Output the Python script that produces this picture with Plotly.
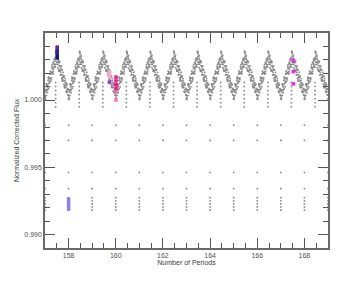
import plotly.graph_objects as go

# ---- data ----
periods = [157, 158, 159, 160, 161, 162, 163, 164, 165, 166, 167, 168]

# template of one cycle of the gray light-curve band (phase within the period, flux)
cycle_phase = [0.00, 0.02, 0.04, 0.06, 0.08, 0.10, 0.12, 0.14, 0.16, 0.18, 0.20, 0.22, 0.24, 0.26,
               0.28, 0.30, 0.32, 0.34, 0.36, 0.38, 0.40, 0.42, 0.44, 0.46, 0.48, 0.50, 0.52, 0.54,
               0.56, 0.58, 0.60, 0.62, 0.64, 0.66, 0.68, 0.70, 0.72, 0.74, 0.76, 0.78, 0.80, 0.82,
               0.84, 0.86, 0.88, 0.90, 0.92, 0.94, 0.96, 0.98,
               0.01, 0.03, 0.05, 0.07, 0.09, 0.11, 0.13, 0.15, 0.17, 0.19, 0.21, 0.23, 0.25, 0.27,
               0.29, 0.31, 0.33, 0.35, 0.37, 0.39, 0.41, 0.43, 0.45, 0.47, 0.49, 0.51, 0.53, 0.55,
               0.57, 0.59, 0.61, 0.63, 0.65, 0.67, 0.69, 0.71, 0.73, 0.75, 0.77, 0.79, 0.81, 0.83,
               0.85, 0.87, 0.89, 0.91, 0.93, 0.95, 0.97, 0.99,
               0.46, 0.48, 0.47,
               0.025, 0.065, 0.105, 0.145, 0.185, 0.225, 0.265, 0.305, 0.345, 0.385, 0.425,
               0.535, 0.575, 0.615, 0.655, 0.695, 0.735, 0.775, 0.815, 0.855, 0.895, 0.935, 0.975]
cycle_flux = [1.00070, 1.00031, 1.00073, 1.00034, 1.00106, 1.00097, 1.00079, 1.00160, 1.00122, 1.00163,
              1.00135, 1.00196, 1.00138, 1.00199, 1.00201, 1.00232, 1.00194, 1.00275, 1.00227, 1.00268,
              1.00260, 1.00311, 1.00263, 1.00304, 1.00325, 1.00280, 1.00320, 1.00240, 1.00280, 1.00279,
              1.00219, 1.00279, 1.00219, 1.00239, 1.00188, 1.00228, 1.00148, 1.00188, 1.00168, 1.00177,
              1.00117, 1.00177, 1.00107, 1.00127, 1.00096, 1.00126, 1.00056, 1.00076, 1.00086, 1.00035,
              1.00016, 1.00077, 1.00059, 1.00120, 1.00072, 1.00113, 1.00145, 1.00086, 1.00148, 1.00129,
              1.00191, 1.00162, 1.00204, 1.00165, 1.00247, 1.00208, 1.00240, 1.00211, 1.00283, 1.00244,
              1.00296, 1.00247, 1.00309, 1.00286, 1.00343, 1.00265, 1.00305, 1.00265, 1.00294, 1.00214,
              1.00254, 1.00214, 1.00254, 1.00204, 1.00223, 1.00163, 1.00223, 1.00153, 1.00173, 1.00142,
              1.00172, 1.00092, 1.00142, 1.00092, 1.00111, 1.00061, 1.00111, 1.00061, 1.00081, 1.00010,
              1.00362, 1.00355, 1.00350,
              1.00005, 1.00117, 1.00055, 1.00171, 1.00098, 1.00214, 1.00150, 1.00262, 1.00196, 1.00300, 1.00243,
              1.00330, 1.00228, 1.00288, 1.00185, 1.00252, 1.00139, 1.00205, 1.00101, 1.00158, 1.00065, 1.00117, 1.00040]

# dotted column below each peak
column_phase = 0.45
column_flux = [1.0013, 1.0010, 1.0007, 1.0004, 1.0001, 0.9998, 0.9995]

# low points at integer periods
low_periods = [157, 158, 159, 160, 161, 162, 163, 164, 165, 166, 167, 168, 169]
low_flux = [0.99813, 0.99701, 0.99463, 0.99343, 0.99276, 0.99253, 0.99230, 0.99207, 0.99184]

# highlighted points (x, flux, colour)
hl_x = [157.52, 157.52, 157.52, 157.52, 157.52, 157.52, 157.52,
        158.0, 158.0, 158.0, 158.0,
        159.73, 159.73, 159.73, 159.73,
        160.01, 160.01, 160.01, 160.01, 160.01, 160.01,
        167.53, 167.53, 167.53]
hl_y = [1.00393, 1.00382, 1.00366, 1.00355, 1.00345, 1.00330, 1.00312,
        0.99265, 0.99240, 0.99215, 0.99192,
        1.00210, 1.00190, 1.00172, 1.00132,
        1.00170, 1.00142, 1.00114, 1.00088, 1.00057, 1.00000,
        1.00294, 1.00211, 1.00120]
hl_c = ["#6a22a8", "#6a22a8", "#2a2aa6", "#2a2aa6", "#2a2aa6", "#1c1c78", "#1c1c78",
        "#8a7cf4", "#8a7cf4", "#8a7cf4", "#8a7cf4",
        "#f6a9c9", "#f6a9c9", "#f6a9c9", "#9a3ad2",
        "#f0128c", "#f0128c", "#f0128c", "#f0128c", "#f07aa8", "#f07aa8",
        "#ff1aff", "#ff1aff", "#ff1aff"]

# ---- build traces ----
gx, gy = [], []
for n in periods:
    for p, f in zip(cycle_phase, cycle_flux):
        gx.append(n + p)
        gy.append(f)
    for f in column_flux:
        gx.append(n + column_phase)
        gy.append(f)
for n in low_periods:
    for f in low_flux:
        gx.append(n)
        gy.append(f)

fig = go.Figure()
fig.add_trace(go.Scatter(x=gx, y=gy, mode="markers",
                         marker=dict(symbol="square", size=1.6, color="#888888", line=dict(width=0)),
                         hoverinfo="skip"))
fig.add_trace(go.Scatter(x=hl_x, y=hl_y, mode="markers",
                         marker=dict(symbol="square", size=3.5, color=hl_c, line=dict(width=0))))

FONT = "Liberation Sans, Arial, sans-serif"
axis_common = dict(showgrid=False, zeroline=False, showline=True, linecolor="#6a6a6a", linewidth=1.5,
                   mirror="ticks", ticks="inside", tickcolor="#555555", tickwidth=1, ticklen=10,
                   automargin=False,
                   tickfont=dict(size=7, color="#505050", family=FONT))

fig.update_xaxes(range=[157, 169], dtick=2, tick0=158,
                 minor=dict(ticks="inside", dtick=0.5, ticklen=5, tickcolor="#555555", tickwidth=1),
                 title=dict(text="Number of Periods", font=dict(size=7, color="#404040", family=FONT), standoff=2),
                 **axis_common)
fig.update_yaxes(range=[0.98903, 1.00497], dtick=0.005, tick0=0.99, tickformat=".3f",
                 minor=dict(ticks="inside", dtick=0.001, ticklen=5, tickcolor="#555555", tickwidth=1),
                 title=dict(text="Normalized Corrected Flux", font=dict(size=7, color="#404040", family=FONT), standoff=4),
                 **axis_common)

# the page body adds an 8 px offset; margins compensate so the plot area lands where the reference has it
fig.update_layout(width=356, height=285, margin=dict(l=37, r=36, t=25, b=45),
                  paper_bgcolor="white", plot_bgcolor="white", showlegend=False,
                  font=dict(family=FONT, size=7, color="#404040"))

fig.write_html("out.html")
